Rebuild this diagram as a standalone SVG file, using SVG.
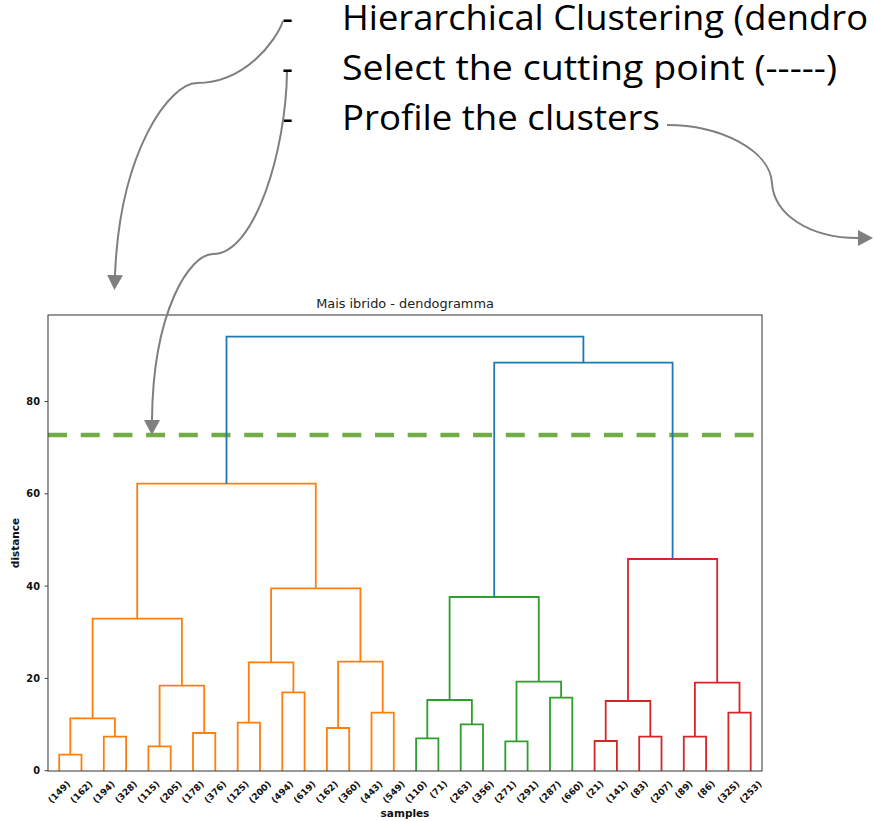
<svg xmlns="http://www.w3.org/2000/svg" width="874" height="821" viewBox="0 0 874 821">
  <defs>
    <marker id="arrowhead" markerUnits="userSpaceOnUse" markerWidth="16" markerHeight="16" viewBox="0 0 16 16" refX="0" refY="8" orient="auto">
      <path d="M0,0 L15,8 L0,16 z" fill="#7f7f7f"/>
    </marker>
    <style>
      .bullet { font-family: "Open Sans", "Noto Sans", sans-serif; font-size: 34px; fill: #000; }
      .arrow { fill: none; stroke: #7f7f7f; stroke-width: 2; marker-end: url(#arrowhead); }
      .frame { fill: none; stroke: #444; stroke-width: 1.1; }
      .tick { stroke: #444; stroke-width: 1; }
      .ytl { font-family: "DejaVu Sans", sans-serif; font-size: 9.8px; font-weight: bold; fill: #111; text-anchor: end; }
      .leaf { font-family: "DejaVu Sans", sans-serif; font-size: 9px; font-weight: bold; fill: #111; text-anchor: middle; dominant-baseline: central; }
      .axlabel { font-family: "DejaVu Sans", sans-serif; font-size: 10.5px; font-weight: bold; fill: #111; text-anchor: middle; }
      .title { font-family: "DejaVu Sans", sans-serif; font-size: 12.9px; fill: #222; text-anchor: middle; }
      .link { fill: none; stroke-width: 1.8; }
      .c1 { stroke: #ff7f0e; }
      .c2 { stroke: #2ca02c; }
      .c3 { stroke: #d62728; }
      .c0 { stroke: #1f77b4; }
      .cut { stroke: #70ad47; stroke-width: 4.6; stroke-dasharray: 19 13.7; }
    </style>
  </defs>

  <rect width="874" height="821" fill="#fff"/>

  <!-- bullet list -->
  <g id="steps">
    <g id="step-1">
      <text class="bullet" x="282" y="29.5">-</text>
      <text class="bullet" x="342" y="29.5" textLength="526" lengthAdjust="spacingAndGlyphs">Hierarchical Clustering (dendro</text>
    </g>
    <g id="step-2">
      <text class="bullet" x="282" y="79.5">-</text>
      <text class="bullet" x="342" y="79.5" textLength="495" lengthAdjust="spacingAndGlyphs">Select the cutting point (-----)</text>
    </g>
    <g id="step-3">
      <text class="bullet" x="282" y="129.5">-</text>
      <text class="bullet" x="342" y="129.5" textLength="318" lengthAdjust="spacingAndGlyphs">Profile the clusters</text>
    </g>
  </g>

  <!-- dendrogram chart -->
  <g id="chart">
    <text class="title" x="405" y="308">Mais ibrido - dendogramma</text>

    <!-- cutting level -->
    <line id="cut-line" class="cut" x1="48" y1="435" x2="754" y2="435"/>

    <g id="links">
      <!-- cluster 1 -->
      <g class="link c1">
        <path d="M59.2,771 V754.7 H81.5 V771"/>
        <path d="M103.8,771 V736.7 H126.1 V771"/>
        <path d="M70.3,754.7 V718.3 H114.9 V736.7"/>
        <path d="M148.4,771 V746.3 H170.7 V771"/>
        <path d="M193.0,771 V733 H215.3 V771"/>
        <path d="M159.6,746.3 V685.7 H204.2 V733"/>
        <path d="M92.6,718.3 V618.7 H181.9 V685.7"/>
        <path d="M237.7,771 V722.7 H260.0 V771"/>
        <path d="M282.3,771 V692.3 H304.6 V771"/>
        <path d="M248.8,722.7 V662.3 H293.4 V692.3"/>
        <path d="M326.9,771 V728 H349.2 V771"/>
        <path d="M371.5,771 V712.7 H393.8 V771"/>
        <path d="M338.1,728 V661.7 H382.7 V712.7"/>
        <path d="M271.1,662.3 V588.3 H360.4 V661.7"/>
        <path d="M137.2,618.7 V483.7 H315.8 V588.3"/>
      </g>
      <!-- cluster 2 -->
      <g class="link c2">
        <path d="M416.1,771 V738.3 H438.4 V771"/>
        <path d="M460.7,771 V724.3 H483.0 V771"/>
        <path d="M427.3,738.3 V700 H471.9 V724.3"/>
        <path d="M505.3,771 V741.3 H527.6 V771"/>
        <path d="M550.0,771 V697.7 H572.3 V771"/>
        <path d="M516.5,741.3 V681.7 H561.1 V697.7"/>
        <path d="M449.6,700 V597 H538.8 V681.7"/>
      </g>
      <!-- cluster 3 -->
      <g class="link c3">
        <path d="M594.6,771 V741 H616.9 V771"/>
        <path d="M639.2,771 V736.7 H661.5 V771"/>
        <path d="M605.7,741 V701 H650.3 V736.7"/>
        <path d="M683.8,771 V736.7 H706.1 V771"/>
        <path d="M728.4,771 V712.7 H750.7 V771"/>
        <path d="M694.9,736.7 V682.7 H739.5 V712.7"/>
        <path d="M628.0,701 V559 H717.2 V682.7"/>
      </g>
      <!-- upper merges -->
      <g class="link c0">
        <path d="M494.2,597 V362.7 H672.6 V559"/>
        <path d="M226.5,483.7 V336.7 H583.4 V362.7"/>
      </g>
    </g>

    <rect class="frame" x="48" y="315" width="714" height="456"/>

    <!-- y axis -->
    <g id="y-axis">
      <line class="tick" x1="44.5" y1="770.7" x2="48" y2="770.7"/>
      <line class="tick" x1="44.5" y1="678.4" x2="48" y2="678.4"/>
      <line class="tick" x1="44.5" y1="586.1" x2="48" y2="586.1"/>
      <line class="tick" x1="44.5" y1="493.8" x2="48" y2="493.8"/>
      <line class="tick" x1="44.5" y1="401.5" x2="48" y2="401.5"/>
      <text class="ytl" x="40" y="774.3">0</text>
      <text class="ytl" x="40" y="682">20</text>
      <text class="ytl" x="40" y="589.7">40</text>
      <text class="ytl" x="40" y="497.4">60</text>
      <text class="ytl" x="40" y="405.1">80</text>
      <text class="axlabel" transform="translate(19 543) rotate(-90)">distance</text>
    </g>

    <!-- leaf labels -->
    <g id="x-axis">
      <text class="leaf" transform="translate(59.2 792) rotate(-45)">(149)</text>
      <text class="leaf" transform="translate(81.5 792) rotate(-45)">(162)</text>
      <text class="leaf" transform="translate(103.8 792) rotate(-45)">(194)</text>
      <text class="leaf" transform="translate(126.1 792) rotate(-45)">(328)</text>
      <text class="leaf" transform="translate(148.4 792) rotate(-45)">(115)</text>
      <text class="leaf" transform="translate(170.7 792) rotate(-45)">(205)</text>
      <text class="leaf" transform="translate(193.0 792) rotate(-45)">(178)</text>
      <text class="leaf" transform="translate(215.3 792) rotate(-45)">(376)</text>
      <text class="leaf" transform="translate(237.7 792) rotate(-45)">(125)</text>
      <text class="leaf" transform="translate(260.0 792) rotate(-45)">(200)</text>
      <text class="leaf" transform="translate(282.3 792) rotate(-45)">(494)</text>
      <text class="leaf" transform="translate(304.6 792) rotate(-45)">(619)</text>
      <text class="leaf" transform="translate(326.9 792) rotate(-45)">(162)</text>
      <text class="leaf" transform="translate(349.2 792) rotate(-45)">(360)</text>
      <text class="leaf" transform="translate(371.5 792) rotate(-45)">(443)</text>
      <text class="leaf" transform="translate(393.8 792) rotate(-45)">(549)</text>
      <text class="leaf" transform="translate(416.1 792) rotate(-45)">(110)</text>
      <text class="leaf" transform="translate(438.4 789.5) rotate(-45)">(71)</text>
      <text class="leaf" transform="translate(460.7 792) rotate(-45)">(263)</text>
      <text class="leaf" transform="translate(483.0 792) rotate(-45)">(356)</text>
      <text class="leaf" transform="translate(505.3 792) rotate(-45)">(271)</text>
      <text class="leaf" transform="translate(527.6 792) rotate(-45)">(291)</text>
      <text class="leaf" transform="translate(550.0 792) rotate(-45)">(287)</text>
      <text class="leaf" transform="translate(572.3 792) rotate(-45)">(660)</text>
      <text class="leaf" transform="translate(594.6 789.5) rotate(-45)">(21)</text>
      <text class="leaf" transform="translate(616.9 792) rotate(-45)">(141)</text>
      <text class="leaf" transform="translate(639.2 789.5) rotate(-45)">(83)</text>
      <text class="leaf" transform="translate(661.5 792) rotate(-45)">(207)</text>
      <text class="leaf" transform="translate(683.8 789.5) rotate(-45)">(89)</text>
      <text class="leaf" transform="translate(706.1 789.5) rotate(-45)">(86)</text>
      <text class="leaf" transform="translate(728.4 792) rotate(-45)">(325)</text>
      <text class="leaf" transform="translate(750.7 792) rotate(-45)">(253)</text>
      <text class="axlabel" x="405" y="817">samples</text>
    </g>
  </g>

  <!-- connectors -->
  <g id="connectors">
    <path id="to-chart" class="arrow" d="M283,21 C276,41 245,83 197,83 C170,83 120,150 115,275"/>
    <path id="to-cut" class="arrow" d="M287,72 C286,150 255,254 213,254 C190,254 153,310 152,420"/>
    <path id="to-profile" class="arrow" d="M667,125 C720,125 770,150 772,183 C774,215 810,238 858,238"/>
  </g>
</svg>
